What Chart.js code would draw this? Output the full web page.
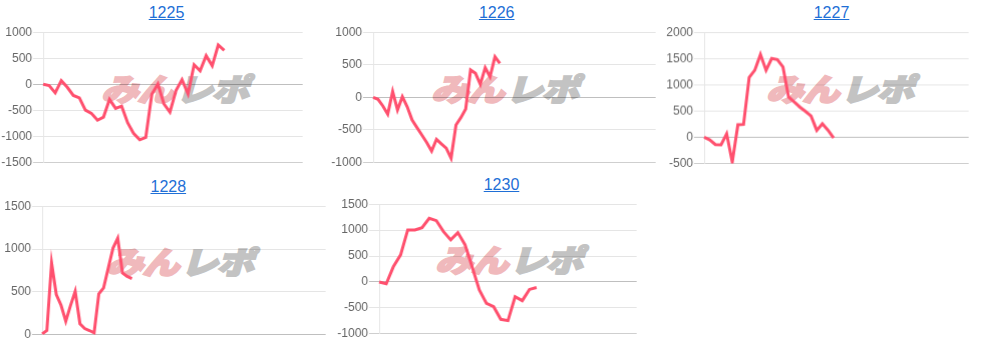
<!DOCTYPE html>
<html>
<head>
<meta charset="utf-8">
<script src="https://cdn.jsdelivr.net/npm/chart.js@4.4.1/dist/chart.umd.min.js"></script>
<style>
    html, body { margin: 0; padding: 0; background: #fff; }
    body { width: 983px; height: 344px; position: relative; overflow: hidden; font-family: 'Liberation Sans', Arial, sans-serif; }
    .title { position: absolute; width: 100px; text-align: center; font-size: 16px; line-height: 16px; }
    .title a { color: #1f6fd6; text-decoration: underline; }
    .mark { position: absolute; height: 28px; font-family: 'Noto Sans CJK JP', sans-serif; font-weight: 900; font-size: 31px; line-height: 28px; white-space: nowrap; transform-origin: 0 50%; transform: skewX(-16deg) scaleX(1.2); letter-spacing: -1px; }
    .mark .a { color: #f0b9bc; -webkit-text-stroke: 2px #f0b9bc; }
    .mark .b { color: #c3c3c3; -webkit-text-stroke: 2px #c3c3c3; margin-left: 2px; }
    .box { position: absolute; }
</style>
</head>
<body>
<script>
// machine numbers (titles)
const titles = ['1225', '1226', '1227', '1228', '1230'];

// balance per sample
const data1225 = [0, -25, -165, 70, -57, -215, -260, -495, -558, -690, -630, -290, -463, -420, -737, -947, -1067, -1022, -190, 5, -375, -533, -120, 90, -185, 375, 260, 550, 355, 755, 650];
const data1226 = [0, -30, -133, -260, 90, -195, 10, -145, -350, -465, -580, -695, -825, -645, -715, -780, -935, -425, -313, -180, 420, 368, 200, 455, 315, 623, 520];
const data1227 = [0, -50, -140, -145, 65, -475, 240, 245, 1138, 1277, 1577, 1277, 1500, 1480, 1340, 767, 672, 575, 493, 403, 130, 258, 135, -15];
const data1228 = [10, 50, 840, 470, 345, 158, 340, 507, 128, 73, 50, 23, 477, 547, 780, 1012, 1128, 721, 681, 655];
const data1230 = [0, -35, 300, 523, 1004, 1004, 1048, 1229, 1183, 971, 812, 952, 720, 290, -155, -413, -477, -721, -746, -285, -361, -144, -106];

// length of each hidden x axis (number of sample slots)
const slots = [44, 59, 48, 61, 37];

// y axis ranges
const yMin = [-1500, -1000, -500, 0, -1000];
const yMax = [1000, 1000, 2000, 1500, 1500];

const series = [data1225, data1226, data1227, data1228, data1230];

// layout: plot area boxes, title position, watermark position
const plots = [
    { l: 43.3, r: 302, t: 31.7, b: 162.3, tx: 166.5, ty: 5.2, wx: 103, wy: 74 },
    { l: 373.3, r: 655, t: 31.7, b: 162.3, tx: 496.7, ty: 5.2, wx: 433, wy: 74 },
    { l: 704.3, r: 968, t: 32.3, b: 163, tx: 831.5, ty: 5.2, wx: 768, wy: 74 },
    { l: 42.3, r: 325, t: 206.3, b: 335.3, tx: 168.3, ty: 178.9, wx: 108, wy: 247 },
    { l: 379.3, r: 636, t: 204.3, b: 334.3, tx: 501.5, ty: 177.2, wx: 437, wy: 245 }
];

const AXIS_W = 44;

plots.forEach((p, i) => {
    const t = document.createElement('div');
    t.className = 'title';
    t.style.left = (p.tx - 50) + 'px';
    t.style.top = p.ty + 'px';
    t.innerHTML = `<a href="#">${titles[i]}</a>`;
    document.body.appendChild(t);

    const m = document.createElement('div');
    m.className = 'mark';
    m.style.left = (p.wx + 2) + 'px';
    m.style.top = p.wy + 'px';
    m.innerHTML = '<span class="a">みん</span><span class="b">レポ</span>';
    document.body.appendChild(m);

    const box = document.createElement('div');
    box.className = 'box';
    box.style.left = (p.l - AXIS_W) + 'px';
    box.style.top = (p.t - 8) + 'px';
    box.style.width = (p.r - p.l + AXIS_W + 2) + 'px';
    box.style.height = (p.b - p.t + 16) + 'px';
    const canvas = document.createElement('canvas');
    box.appendChild(canvas);
    document.body.appendChild(box);

    const labels = Array.from({ length: slots[i] }, (_, k) => k + 1);

    new Chart(canvas, {
        type: 'line',
        data: {
            labels,
            datasets: [{
                data: series[i],
                borderColor: 'rgb(255, 80, 110)',
                borderWidth: 3,
                pointRadius: 0,
                tension: 0,
                fill: false
            }]
        },
        options: {
            responsive: true,
            maintainAspectRatio: false,
            animation: false,
            layout: { padding: { top: 8, bottom: 8, right: 2, left: 0 } },
            plugins: { legend: { display: false }, tooltip: { enabled: false } },
            scales: {
                x: { display: false },
                y: {
                    min: yMin[i],
                    max: yMax[i],
                    afterFit: s => { s.width = AXIS_W; },
                    border: { color: 'rgba(0,0,0,0.1)' },
                    grid: {
                        tickLength: 10,
                        color: ctx => {
                            if (ctx.tick && ctx.tick.value === 0) return 'rgba(0,0,0,0.25)';
                            if (ctx.index === 0) return 'rgba(0,0,0,0.19)';
                            return 'rgba(0,0,0,0.1)';
                        }
                    },
                    ticks: {
                        stepSize: 500,
                        padding: 1,
                        color: '#666',
                        font: { family: "'Liberation Sans', Arial, sans-serif", size: 12 },
                        callback: v => String(v)
                    }
                }
            }
        }
    });
});
</script>
</body>
</html>
